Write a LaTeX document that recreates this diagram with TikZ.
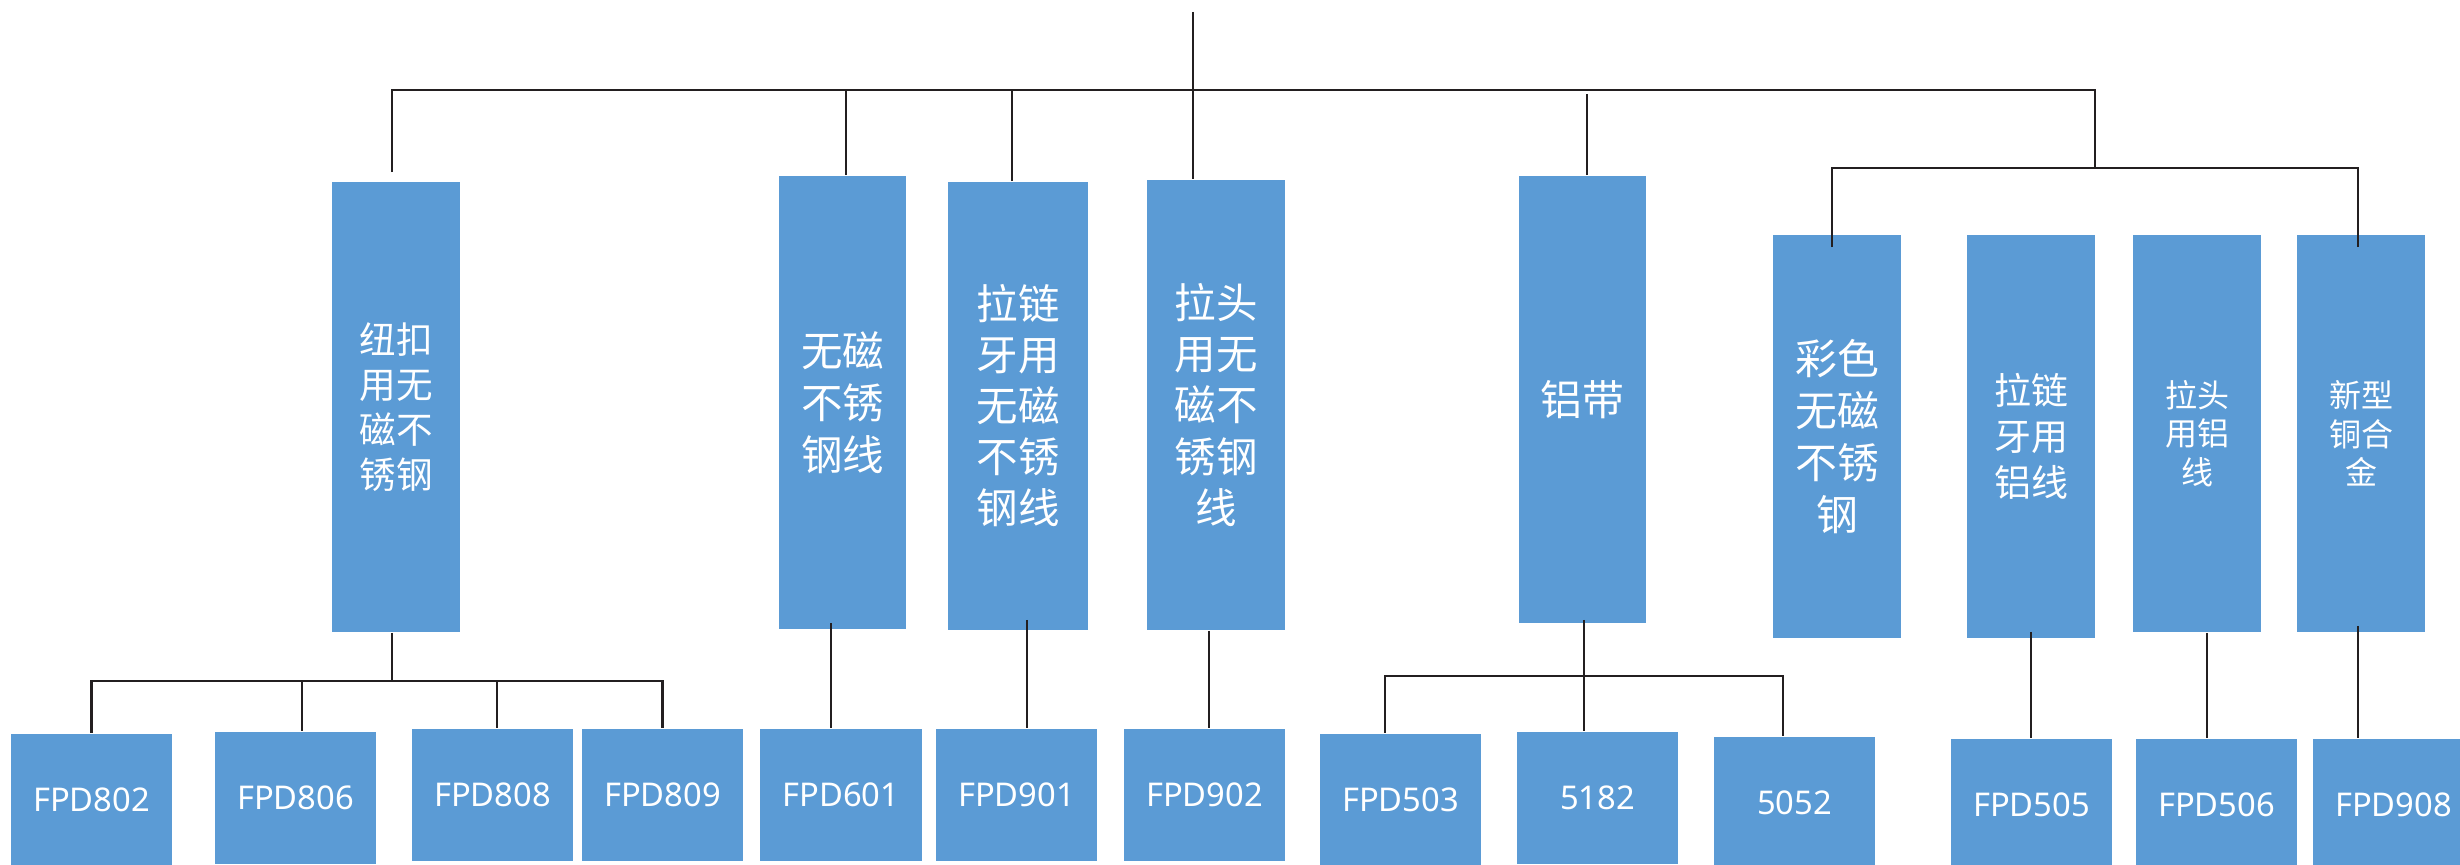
\documentclass[tikz,border=0pt]{standalone}
\usepackage{fontspec}
\setmainfont{Noto Sans}
\newfontfamily\cjk{Noto Sans CJK SC}
\definecolor{boxblue}{HTML}{5B9BD5}
\definecolor{linedark}{HTML}{231F20}
\newcommand\cjksize[2]{\cjk\fontsize{#1}{#2}\selectfont}
\tikzset{
  catbox/.style={fill=boxblue, text=white, inner sep=0pt, align=center, minimum width=1.28cm},
  codebox/.style={fill=boxblue, text=white, inner sep=0pt, anchor=north,
    minimum width=1.61cm, minimum height=1.32cm, font=\fontsize{9.3}{11}\selectfont},
  link/.style={draw=linedark, line width=0.7pt},
}

\begin{document}
\begin{tikzpicture}[x=0.01cm, y=-0.01cm]
  \useasboundingbox (0,0) rectangle (2460,865);

  % categories
  \node[catbox, minimum height=4.5cm, font=\cjksize{10.4}{12.8}] (nk) at (396,407) {纽扣\\用无\\磁不\\锈钢};
  \node[catbox, minimum width=1.27cm, minimum height=4.53cm, font=\cjksize{11.8}{14.8}] (wc) at (842.5,402.5) {无磁\\不锈\\钢线};
  \node[catbox, minimum width=1.4cm, minimum height=4.48cm, font=\cjksize{11.8}{14.5}] (lw) at (1018,406) {拉链\\牙用\\无磁\\不锈\\钢线};
  \node[catbox, minimum width=1.38cm, minimum height=4.5cm, font=\cjksize{11.8}{14.6}] (lt) at (1216,405) {拉头\\用无\\磁不\\锈钢\\线};
  \node[catbox, minimum width=1.27cm, minimum height=4.47cm, font=\cjksize{11.9}{14.6}] (ld) at (1582.5,399.5) {铝带};
  \node[catbox, minimum height=4.03cm, font=\cjksize{11.9}{14.7}] (cs) at (1837,436.5) {彩色\\无磁\\不锈\\钢};
  \node[catbox, minimum height=4.03cm, font=\cjksize{10.5}{13.1}] (la) at (2031,436.5) {拉链\\牙用\\铝线};
  \node[catbox, minimum height=3.97cm, font=\cjksize{9.1}{11}] (ta) at (2197,433.5) {拉头\\用铝\\线};
  \node[catbox, minimum height=3.97cm, font=\cjksize{9.1}{11}] (xt) at (2361,433.5) {新型\\铜合\\金};

  % codes
  \node[codebox] (f802) at (91.5,733) {FPD802};
  \node[codebox] (f806) at (295.5,731) {FPD806};
  \node[codebox] (f808) at (492.5,728) {FPD808};
  \node[codebox] (f809) at (662.5,728) {FPD809};
  \node[codebox] (f601) at (841,728) {FPD601};
  \node[codebox] (f901) at (1016.5,728) {FPD901};
  \node[codebox] (f902) at (1204.5,728) {FPD902};
  \node[codebox] (f503) at (1400.5,733) {FPD503};
  \node[codebox] (a5182) at (1597.5,731) {5182};
  \node[codebox] (a5052) at (1794.5,736) {5052};
  \node[codebox] (f505) at (2031.5,738) {FPD505};
  \node[codebox] (f506) at (2216.5,738) {FPD506};
  \node[codebox] (f908) at (2393.5,738) {FPD908};

  % top links
  \coordinate (root) at (1193,12);
  \coordinate (bus) at (1193,90);
  \coordinate (sub) at (2095,168);
  \draw[link] (root) -- (root |- lt.north);
  \draw[link] (nk.north) ++(-4,-9) coordinate (t1) -- (t1 |- bus) -- (sub |- bus) -- (sub);
  \draw[link] (wc.north) ++(3.5,0) coordinate (t2) -- (t2 |- bus);
  \draw[link] (lw.north) ++(-6,0) coordinate (t3) -- (t3 |- bus);
  \draw[link] (ld.north) ++(4.5,0) coordinate (t4) -- ([yshift=-0.04cm]t4 |- bus);
  \path (xt.north) ++(-3,13) coordinate (t6);
  \draw[link] (cs.north) ++(-5,13) coordinate (t5) -- (t5 |- sub) -- (t6 |- sub) -- (t6);

  % bottom links
  \coordinate (kbus) at (392,681);
  \coordinate (abus) at (1584,676);
  \draw[link] (nk.south) ++(-4,0) -- (kbus);
  \draw[link] (f802.north) |- (kbus) -| (f809.north);
  \draw[link] (f806.north) ++(6.5,0) coordinate (b1) -- (b1 |- kbus);
  \draw[link] (f808.north) ++(4.5,0) coordinate (b2) -- (b2 |- kbus);
  \draw[link] (wc.south) ++(-11.5,-7) coordinate (b3) -- (b3 |- f601.north);
  \draw[link] (lw.south) ++(9,-11) coordinate (b4) -- (b4 |- f901.north);
  \draw[link] (lt.south) ++(-7,0) coordinate (b5) -- (b5 |- f902.north);
  \draw[link] (ld.south) ++(1.5,-4) coordinate (b6) -- (b6 |- a5182.north);
  \draw[link] (f503.north) ++(-15.5,0) coordinate (b7) |- (abus) -| ([xshift=-0.115cm]a5052.north);
  \draw[link] (la.south) ++(0,-7) coordinate (b8) -- (b8 |- f505.north);
  \draw[link] (ta.south) ++(10,0) coordinate (b9) -- (b9 |- f506.north);
  \draw[link] (xt.south) ++(-3,-7) coordinate (b10) -- (b10 |- f908.north);
\end{tikzpicture}
\end{document}
